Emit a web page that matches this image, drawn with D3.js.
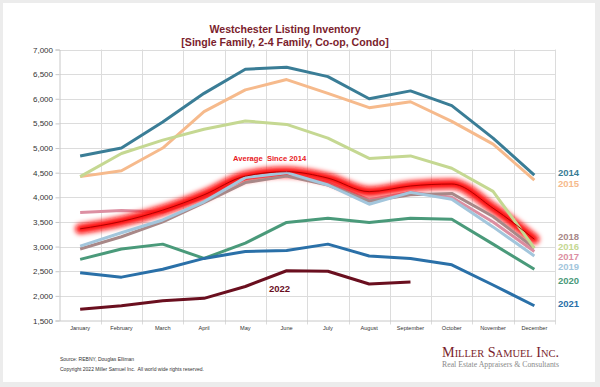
<!DOCTYPE html>
<html>
<head>
<meta charset="utf-8">
<script src="https://cdn.jsdelivr.net/npm/d3@7"></script>
<style>
  body { margin: 0; background: #ececec; }
  svg { display: block; font-family: "Liberation Sans", Arial, sans-serif; }
</style>
</head>
<body>
<div class="chart"></div>
<script>
const months = ["January","February","March","April","May","June","July","August","September","October","November","December"];
const yTicks = [1500,2000,2500,3000,3500,4000,4500,5000,5500,6000,6500,7000];

// listing inventory per month
const y2014 = [4840,5000,5530,6110,6600,6640,6450,6000,6160,5860,5200,4450];
const y2015 = [4420,4540,5000,5740,6180,6390,6110,5820,5940,5540,5080,4350];
const y2016 = [4420,4890,5160,5380,5550,5480,5200,4790,4840,4590,4120,2970];
const y2017 = [3690,3730,3700,4000,4380,4480,4300,3950,4100,4000,3500,2900];
const y2018 = [2950,3200,3500,3890,4300,4430,4250,3920,4050,4080,3610,2970];
const y2019 = [3010,3280,3540,3910,4400,4500,4250,3860,4100,3960,3400,2810];
const y2020 = [2740,2950,3050,2760,3070,3490,3575,3490,3575,3555,3050,2540];
const y2021 = [2470,2380,2540,2760,2900,2920,3050,2810,2760,2630,2220,1800];
const y2022 = [1730,1800,1900,1950,2190,2510,2500,2240,2280];
const avgSince2014 = [3360,3510,3740,4050,4430,4520,4390,4115,4230,4270,3780,3150];

const width = 600, height = 387;
const margin = {top: 49.5, left: 59.5, right: 45, bottom: 66.5};

const svg = d3.select('.chart')
  .append('svg')
  .attr('width', width)
  .attr('height', height);

svg.append('rect')
  .attr('x', 3).attr('y', 3)
  .attr('width', 592).attr('height', 379)
  .attr('fill', '#fff');

const xScale = d3.scaleBand()
  .domain(months)
  .range([margin.left, width - margin.right]);
const xc = m => xScale(m) + xScale.bandwidth() / 2;

const yScale = d3.scaleLinear()
  .domain([1500, 7000])
  .range([height - margin.bottom, margin.top]);

const defs = svg.append('defs');
defs.append('filter')
  .attr('id', 'glow')
  .attr('x', '-10%').attr('y', '-30%')
  .attr('width', '120%').attr('height', '160%')
  .append('feGaussianBlur')
  .attr('stdDeviation', 2.6);

// grid
const grid = svg.append('g').attr('stroke', '#dcdcdc').attr('stroke-width', 1);
grid.selectAll('.hgrid')
  .data(yTicks.slice(1))
  .enter().append('line')
  .attr('x1', margin.left).attr('x2', width - margin.right)
  .attr('y1', d => Math.round(yScale(d)) + 0.5)
  .attr('y2', d => Math.round(yScale(d)) + 0.5);
grid.selectAll('.vgrid')
  .data(months.slice(1).concat(['end']))
  .enter().append('line')
  .attr('x1', d => Math.round(d === 'end' ? width - margin.right : xScale(d)) + 0.5)
  .attr('x2', d => Math.round(d === 'end' ? width - margin.right : xScale(d)) + 0.5)
  .attr('y1', margin.top).attr('y2', height - margin.bottom + 4);

// axes
const yAxis = d3.axisLeft(yScale)
  .tickValues(yTicks)
  .tickSize(4)
  .tickFormat(d3.format(','));
const gy = svg.append('g')
  .attr('class', 'axis y-axis')
  .attr('transform', 'translate(' + margin.left + ',0)')
  .call(yAxis);
gy.select('.domain').attr('stroke', '#c8c8c8');
gy.selectAll('.tick line').attr('stroke', '#c8c8c8');
gy.selectAll('.tick text')
  .attr('font-size', 8)
  .attr('fill', '#333')
  .attr('x', -6.5)
  .attr('font-family', '"Liberation Sans", Arial, sans-serif');

const xAxis = d3.axisBottom(xScale).tickSize(0).tickSizeOuter(0);
const gx = svg.append('g')
  .attr('class', 'axis x-axis')
  .attr('transform', 'translate(0,' + (height - margin.bottom) + ')')
  .call(xAxis);
gx.select('.domain').attr('stroke', '#c8c8c8');
gx.selectAll('.tick text')
  .attr('font-size', 5.6)
  .attr('fill', '#333')
  .attr('y', 5.5)
  .attr('font-family', '"Liberation Sans", Arial, sans-serif');

const line = d3.line()
  .x((d, i) => xc(months[i]))
  .y(d => yScale(d));
const smooth = d3.line()
  .x((d, i) => xc(months[i]))
  .y(d => yScale(d))
  .curve(d3.curveMonotoneX);

function drawSeries(values, color, w) {
  svg.append('path')
    .datum(values)
    .attr('fill', 'none')
    .attr('stroke', color)
    .attr('stroke-width', w)
    .attr('stroke-linejoin', 'round')
    .attr('d', line);
}

drawSeries(y2014, '#3a7d96', 3);
drawSeries(y2015, '#f6ba8c', 3);
drawSeries(y2017, '#dc8fa2', 3);
drawSeries(y2020, '#4a9a7a', 3);
drawSeries(y2021, '#2a70a8', 3);
drawSeries(y2022, '#6a0f1f', 3);

// glow for the average
svg.append('path')
  .datum(avgSince2014)
  .attr('fill', 'none')
  .attr('stroke', '#ff0a0a')
  .attr('stroke-width', 10)
  .attr('stroke-linecap', 'round')
  .attr('filter', 'url(#glow)')
  .attr('d', smooth);

drawSeries(y2018, '#a88888', 3);
drawSeries(y2019, '#a3c6dc', 3);
drawSeries(y2016, '#c5d892', 3);

svg.append('path')
  .datum(avgSince2014)
  .attr('fill', 'none')
  .attr('stroke', '#b00000')
  .attr('stroke-width', 1)
  .attr('d', smooth);

// title
const title = svg.append('text')
  .attr('text-anchor', 'middle')
  .attr('fill', '#7b1e2d')
  .attr('font-weight', 'bold')
  .attr('font-size', 10.6);
title.append('tspan').attr('x', 285).attr('y', 33).text('Westchester Listing Inventory');
title.append('tspan').attr('x', 285).attr('y', 46).text('[Single Family, 2-4 Family, Co-op, Condo]');

// inline labels
svg.append('text')
  .attr('x', 233).attr('y', 161)
  .attr('fill', '#e8201e')
  .attr('font-weight', 'bold')
  .attr('font-size', 7.6)
  .attr('xml:space', 'preserve')
  .text('Average  Since 2014');

svg.append('text')
  .attr('x', 269).attr('y', 292)
  .attr('fill', '#6a0f1f')
  .attr('font-weight', 'bold')
  .attr('font-size', 9.5)
  .text('2022');

const legendNames = ['2014','2015','2018','2016','2017','2019','2020','2021'];
const legendColors = ['#3a7d96','#f6ba8c','#a88888','#c5d892','#dc8fa2','#a3c6dc','#4a9a7a','#2a70a8'];
const legendY = [175.5, 186.5, 239.5, 249.5, 259.5, 270, 283.5, 306.5];
svg.selectAll('.yr')
  .data(legendNames)
  .enter().append('text')
  .attr('x', 558)
  .attr('y', (d, i) => legendY[i])
  .attr('fill', (d, i) => legendColors[i])
  .attr('font-weight', 'bold')
  .attr('font-size', 9.5)
  .text(d => d);

// footer
svg.append('text')
  .attr('x', 60).attr('y', 361)
  .attr('font-size', 5)
  .attr('fill', '#333')
  .text('Source: REBNY, Douglas Elliman');
svg.append('text')
  .attr('x', 60).attr('y', 371)
  .attr('font-size', 5)
  .attr('fill', '#333')
  .attr('xml:space', 'preserve')
  .text('Copyright 2022 Miller Samuel Inc.  All world wide rights reserved.');

svg.append('text')
  .attr('x', 442).attr('y', 357)
  .attr('font-family', '"Liberation Serif", "DejaVu Serif", serif')
  .attr('font-size', 15)
  .attr('font-variant', 'small-caps')
  .attr('fill', '#7a1e2c')
  .attr('textLength', 117)
  .attr('lengthAdjust', 'spacingAndGlyphs')
  .text('Miller Samuel Inc.');
svg.append('text')
  .attr('x', 442).attr('y', 367)
  .attr('font-family', '"Liberation Serif", "DejaVu Serif", serif')
  .attr('font-size', 7.4)
  .attr('fill', '#8a8a8a')
  .attr('textLength', 117)
  .attr('lengthAdjust', 'spacingAndGlyphs')
  .text('Real Estate Appraisers & Consultants');
</script>
</body>
</html>
